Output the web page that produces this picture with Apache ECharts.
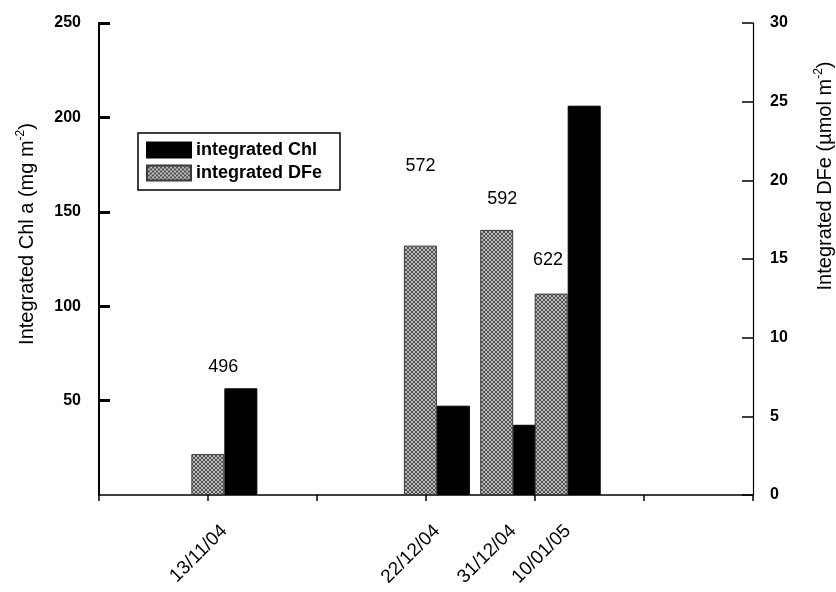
<!DOCTYPE html>
<html>
<head>
<meta charset="utf-8">
<script src="https://cdn.jsdelivr.net/npm/echarts@6/dist/echarts.min.js"></script>
<style>
  html, body { margin: 0; padding: 0; background: #fff; }
  #chart { width: 836px; height: 592px; }
</style>
</head>
<body>
<div id="chart"></div>
<script>
// Sampling dates (position on the day axis) and their labels
const sampleDay = [23, 62, 76, 86];
const dateLabels = ['13/11/04', '22/12/04', '31/12/04', '10/01/05'];

// Integrated chlorophyll a (mg m-2) and dissolved iron (µmol m-2)
const chlValues = [56.5, 47.3, 37.2, 206.2];
const dfeValues = [2.6, 15.85, 16.85, 12.8];

// Station numbers written above each sampling
const stationIds = ['496', '572', '592', '622'];
const stationDay = [22.8, 59, 74, 82.4];
const stationChl = [68, 174, 157, 124.5];

// Left / right / bottom axis ranges
const chlAxis = { min: 0, max: 250, step: 50 };
const dfeAxis = { min: 0, max: 30, step: 5 };
const dayAxis = { min: 0, max: 120, step: 20 };

// Cross-hatched fill for the DFe bars
function hatch() {
  const c = document.createElement('canvas');
  c.width = 4; c.height = 4;
  const g = c.getContext('2d');
  g.fillStyle = '#bdbdbd';
  g.fillRect(0, 0, 4, 4);
  g.strokeStyle = '#444';
  g.lineWidth = 0.9;
  g.beginPath();
  g.moveTo(0, 0); g.lineTo(4, 4);
  g.moveTo(4, 0); g.lineTo(0, 4);
  g.stroke();
  return { image: c, repeat: 'repeat' };
}

const FONT = 'Liberation Sans, Arial, sans-serif';
const chart = echarts.init(document.getElementById('chart'), null, { renderer: 'canvas' });

chart.setOption({
  animation: false,
  backgroundColor: '#fff',
  textStyle: { fontFamily: FONT, color: '#000' },
  grid: { left: 99, right: 83, top: 23, bottom: 97, containLabel: false, outerBoundsMode: 'none' },
  legend: {
    data: ['integrated Chl', 'integrated DFe'],
    orient: 'vertical',
    left: 138, top: 133,
    itemWidth: 44, itemHeight: 15, itemGap: 5,
    padding: [8, 18, 8, 8],
    borderColor: '#000', borderWidth: 1.5,
    icon: 'rect',
    textStyle: { fontFamily: FONT, fontWeight: 'bold', fontSize: 18, color: '#000' }
  },
  xAxis: {
    type: 'value',
    min: dayAxis.min, max: dayAxis.max, interval: dayAxis.step,
    axisLine: { show: true, lineStyle: { color: '#000', width: 1.5 } },
    axisTick: { show: true, inside: false, length: 6, lineStyle: { color: '#000', width: 1.5 } },
    splitLine: { show: false },
    axisLabel: {
      customValues: sampleDay,
      rotate: 45, margin: 33,
      fontFamily: FONT, fontSize: 19, color: '#000',
      formatter: v => dateLabels[sampleDay.indexOf(v)] || ''
    }
  },
  yAxis: [
    {
      type: 'value', position: 'left',
      min: chlAxis.min, max: chlAxis.max, interval: chlAxis.step,
      name: 'Integrated Chl a (mg m{sup|-2})',
      nameLocation: 'middle', nameRotate: 90, nameGap: 60,
      nameTextStyle: {
        fontFamily: FONT, fontSize: 20, color: '#000',
        padding: [0, 0, 0, 50],
        rich: { sup: { fontSize: 12, padding: [0, 0, 12, 0] } }
      },
      axisLine: { show: true, lineStyle: { color: '#000', width: 2 } },
      axisTick: { show: true, inside: true, length: 11, lineStyle: { color: '#000', width: 3 } },
      splitLine: { show: false },
      axisLabel: { showMinLabel: false, margin: 18, fontFamily: FONT, fontWeight: 'bold', fontSize: 16, color: '#000' }
    },
    {
      type: 'value', position: 'right',
      min: dfeAxis.min, max: dfeAxis.max, interval: dfeAxis.step,
      name: 'Integrated DFe (µmol m{sup|-2})',
      nameLocation: 'middle', nameRotate: 90, nameGap: 60,
      nameTextStyle: {
        fontFamily: FONT, fontSize: 20, color: '#000',
        padding: [0, 0, 0, 166],
        rich: { sup: { fontSize: 12, padding: [0, 0, 12, 0] } }
      },
      axisLine: { show: true, lineStyle: { color: '#000', width: 1.2 } },
      axisTick: { show: true, inside: true, length: 11, lineStyle: { color: '#000', width: 1.5 } },
      splitLine: { show: false },
      axisLabel: { margin: 17, fontFamily: FONT, fontWeight: 'bold', fontSize: 16, color: '#000' }
    }
  ],
  series: [
    {
      name: 'integrated DFe',
      type: 'bar',
      xAxisIndex: 0, yAxisIndex: 1,
      barWidth: 33, barGap: '0%',
      z: 3,
      itemStyle: { color: hatch(), borderColor: '#3a3a3a', borderWidth: 1 },
      data: sampleDay.map((d, i) => [d, dfeValues[i]])
    },
    {
      name: 'integrated Chl',
      type: 'bar',
      xAxisIndex: 0, yAxisIndex: 0,
      barWidth: 33, barGap: '0%',
      z: 2,
      itemStyle: { color: '#000', borderColor: '#000', borderWidth: 1 },
      data: sampleDay.map((d, i) => [d, chlValues[i]])
    },
    {
      name: 'station',
      type: 'scatter',
      xAxisIndex: 0, yAxisIndex: 0,
      symbolSize: 0,
      silent: true,
      itemStyle: { opacity: 1 },
      label: {
        show: true, position: 'inside',
        fontFamily: FONT, fontSize: 18, color: '#000',
        formatter: p => stationIds[p.dataIndex]
      },
      data: stationDay.map((d, i) => [d, stationChl[i]])
    }
  ]
});
</script>
</body>
</html>
